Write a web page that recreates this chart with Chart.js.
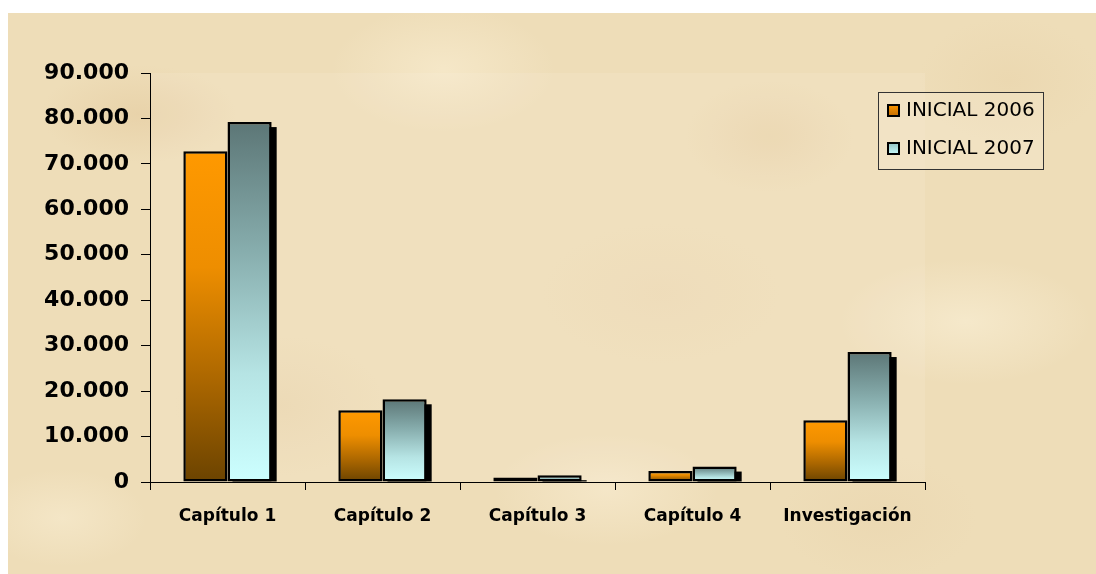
<!DOCTYPE html>
<html>
<head>
<meta charset="utf-8">
<script src="https://cdn.jsdelivr.net/npm/chart.js@4.4.0/dist/chart.umd.min.js"></script>
<style>
html,body{margin:0;padding:0;background:#fff;}
#wrap{position:relative;width:1096px;height:574px;overflow:hidden;}
#bg{position:absolute;left:8px;top:13px;width:1088px;height:561px;
  background-color:#EEDDB8;
  background-image:
    radial-gradient(ellipse 140px 70px at 12% 18%, rgba(228,202,158,0.55), transparent 70%),
    radial-gradient(ellipse 160px 90px at 40% 10%, rgba(250,238,210,0.6), transparent 70%),
    radial-gradient(ellipse 120px 80px at 70% 22%, rgba(230,206,162,0.5), transparent 70%),
    radial-gradient(ellipse 180px 90px at 88% 55%, rgba(250,240,215,0.6), transparent 70%),
    radial-gradient(ellipse 150px 100px at 25% 70%, rgba(230,208,165,0.45), transparent 70%),
    radial-gradient(ellipse 160px 80px at 55% 85%, rgba(250,238,212,0.55), transparent 70%),
    radial-gradient(ellipse 130px 90px at 92% 12%, rgba(232,210,168,0.45), transparent 70%),
    radial-gradient(ellipse 170px 100px at 60% 50%, rgba(234,212,172,0.4), transparent 70%),
    radial-gradient(ellipse 120px 70px at 5% 90%, rgba(248,236,208,0.6), transparent 70%),
    radial-gradient(ellipse 140px 90px at 80% 90%, rgba(232,210,170,0.4), transparent 70%);
}
canvas{position:absolute;left:0;top:0;}
</style>
</head>
<body>
<div id="wrap">
  <div id="bg"></div>
  <canvas id="c" width="1096" height="574"></canvas>
</div>
<script>
// ---- data ----
const categories = ['Capítulo 1', 'Capítulo 2', 'Capítulo 3', 'Capítulo 4', 'Investigación'];
const seriesNames = ['INICIAL 2006', 'INICIAL 2007'];
const inicial2006 = [72800, 15800, 1000, 2400, 13600];
const inicial2007 = [79200, 18200, 1500, 3400, 28600];
const yTickLabels = ['0', '10.000', '20.000', '30.000', '40.000', '50.000', '60.000', '70.000', '80.000', '90.000'];

// ---- styles ----
const orangeStops = [[0, '#FF9900'], [0.35, '#EE8E00'], [0.7, '#AA6600'], [1, '#6B4300']];
const tealStops = [[0, '#5C7676'], [0.35, '#86ACAC'], [0.7, '#B6E4E4'], [1, '#CCFFFF']];

function barGradient(ctx, stops) {
  const chart = ctx.chart;
  if (!chart.chartArea || ctx.type !== 'data' || !chart.scales.y) return stops[0][1];
  const ys = chart.scales.y;
  const top = ys.getPixelForValue(ctx.raw);
  const base = ys.getPixelForValue(0);
  if (!isFinite(top) || !isFinite(base) || top === base) return stops[0][1];
  const g = chart.ctx.createLinearGradient(0, top, 0, base);
  stops.forEach(s => g.addColorStop(s[0], s[1]));
  return g;
}

const areaPlugin = {
  id: 'areaFill',
  beforeDraw(chart) {
    const a = chart.chartArea, c = chart.ctx;
    c.save();
    c.fillStyle = 'rgba(255,250,236,0.12)';
    c.fillRect(a.left, a.top, a.right - a.left, a.bottom - a.top);
    c.restore();
  }
};

// black drop shadow behind the second series' bars, from the library's bar elements
const shadowPlugin = {
  id: 'barShadow',
  beforeDatasetDraw(chart, args) {
    if (args.index !== 1) return;
    const c = chart.ctx, a = chart.chartArea;
    const off = 5;
    c.save();
    c.beginPath();
    c.rect(a.left, a.top, a.right - a.left, a.bottom - a.top);
    c.clip();
    c.fillStyle = '#000';
    args.meta.data.forEach(el => {
      const p = el.getProps(['x', 'y', 'base', 'width'], true);
      const left = p.x - p.width / 2 + off;
      const top = Math.min(p.y, p.base) + off;
      const bottom = Math.max(p.y, p.base);
      if (bottom > top) c.fillRect(left, top, p.width, bottom - top);
    });
    c.restore();
  }
};

const legendPlugin = {
  id: 'boxLegend',
  afterDraw(chart) {
    const c = chart.ctx;
    const x = 878, y = 92, w = 165, h = 77;
    c.save();
    c.fillStyle = 'rgba(246,236,212,0.35)';
    c.fillRect(x, y, w, h);
    c.strokeStyle = '#333';
    c.lineWidth = 1;
    c.strokeRect(x + 0.5, y + 0.5, w, h);
    const markerStops = [
      [[0, '#FF9900'], [1, '#C06A00']],
      [[0, '#8FBDBD'], [1, '#CCFFFF']]
    ];
    chart.data.datasets.forEach((ds, i) => {
      const cy = 111 + i * 38;
      const mx = 887, my = cy - 7, ms = 13;
      const g = c.createLinearGradient(0, my, 0, my + ms);
      markerStops[i].forEach(s => g.addColorStop(s[0], s[1]));
      c.fillStyle = '#000';
      c.fillRect(mx, my, ms, ms);
      c.fillStyle = g;
      c.fillRect(mx + 2, my + 2, ms - 4, ms - 4);
      c.fillStyle = '#000';
      c.font = '20px "DejaVu Sans"';
      c.textBaseline = 'middle';
      c.textAlign = 'left';
      c.fillText(ds.label, 906, cy);
    });
    c.restore();
  }
};

new Chart(document.getElementById('c'), {
  type: 'bar',
  data: {
    labels: categories,
    datasets: [
      {
        label: seriesNames[0],
        data: inicial2006,
        backgroundColor: ctx => barGradient(ctx, orangeStops),
        borderColor: '#000',
        borderWidth: 2.5,
        borderSkipped: false,
        clip: 0
      },
      {
        label: seriesNames[1],
        data: inicial2007,
        backgroundColor: ctx => barGradient(ctx, tealStops),
        borderColor: '#000',
        borderWidth: 2.5,
        borderSkipped: false,
        clip: 0
      }
    ]
  },
  options: {
    responsive: false,
    animation: false,
    events: [],
    layout: { padding: { left: 0, right: 171, top: 73, bottom: 0 } },
    categoryPercentage: 0.57,
    barPercentage: 1.0,
    plugins: {
      legend: { display: false },
      tooltip: { enabled: false },
      title: { display: false }
    },
    scales: {
      x: {
        grid: { display: true, drawOnChartArea: false, drawTicks: true, tickLength: 8, color: '#000', offset: true },
        border: { display: true, color: '#000', width: 1 },
        ticks: { color: '#000', font: { family: 'DejaVu Sans', size: 17, weight: 'bold' }, padding: 16, maxRotation: 0 },
        afterFit: s => { s.height = 92; }
      },
      y: {
        min: 0, max: 90000,
        ticks: {
          stepSize: 10000,
          color: '#000',
          font: { family: 'DejaVu Sans', size: 22, weight: 'bold' },
          padding: 12,
          callback: (v, i) => yTickLabels[i]
        },
        grid: { display: true, drawOnChartArea: false, drawTicks: true, tickLength: 9, color: '#000' },
        border: { display: true, color: '#000', width: 1 },
        afterFit: s => { s.width = 150; }
      }
    }
  },
  plugins: [areaPlugin, shadowPlugin, legendPlugin]
});
</script>
</body>
</html>
